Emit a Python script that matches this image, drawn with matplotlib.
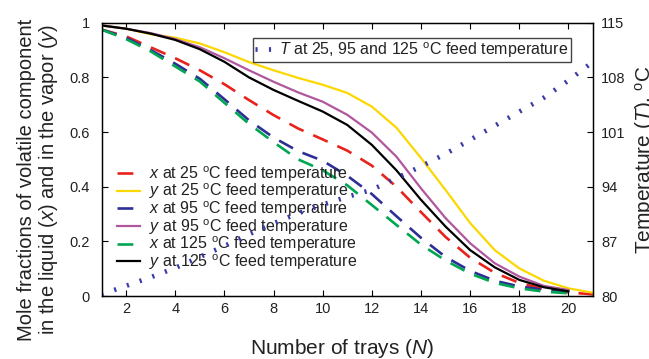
import matplotlib
matplotlib.use("Agg")
import matplotlib.pyplot as plt

plt.rcParams['font.family'] = ['Liberation Sans', 'DejaVu Sans']
plt.rcParams['mathtext.fontset'] = 'custom'
plt.rcParams['mathtext.rm'] = 'Liberation Sans'
plt.rcParams['mathtext.it'] = 'Liberation Sans:italic'
plt.rcParams['mathtext.bf'] = 'Liberation Sans:bold'

# ---- data ----
trays21 = list(range(1, 22))
trays20 = list(range(1, 21))

x_25 = [0.975, 0.95, 0.91, 0.87, 0.826, 0.775, 0.717, 0.662, 0.613, 0.573, 0.532,
        0.477, 0.40, 0.307, 0.216, 0.14, 0.085, 0.048, 0.025, 0.013, 0.006]
y_25 = [0.99, 0.978, 0.958, 0.945, 0.924, 0.892, 0.856, 0.826, 0.798, 0.773, 0.743,
        0.693, 0.616, 0.505, 0.388, 0.267, 0.168, 0.101, 0.056, 0.028, 0.012]
x_95 = [0.975, 0.945, 0.90, 0.85, 0.795, 0.72, 0.643, 0.58, 0.53, 0.495,
        0.44, 0.373, 0.292, 0.213, 0.143, 0.092, 0.056, 0.035, 0.023, 0.014]
y_95 = [0.99, 0.978, 0.962, 0.94, 0.91, 0.87, 0.826, 0.784, 0.745, 0.711,
        0.663, 0.598, 0.51, 0.394, 0.285, 0.193, 0.12, 0.071, 0.037, 0.022]
x_125 = [0.975, 0.94, 0.895, 0.84, 0.785, 0.707, 0.63, 0.563, 0.50, 0.46,
         0.405, 0.333, 0.26, 0.188, 0.13, 0.082, 0.048, 0.028, 0.016, 0.01]
y_125 = [0.99, 0.978, 0.96, 0.937, 0.903, 0.857, 0.80, 0.754, 0.714, 0.675,
         0.626, 0.553, 0.46, 0.352, 0.254, 0.168, 0.105, 0.059, 0.032, 0.017]
T_all = [80.2, 81.3, 82.4, 83.6, 85.0, 86.4, 87.9, 89.3, 90.6, 91.7, 92.7,
         93.6, 95.1, 96.6, 98.2, 100.0, 101.8, 103.6, 105.4, 107.6, 110.0]

xticks = [2, 4, 6, 8, 10, 12, 14, 16, 18, 20]
yticks = [0, 0.2, 0.4, 0.6, 0.8, 1]
yticklabels = ['0', '0.2', '0.4', '0.6', '0.8', '1']
tticks = [80, 87, 94, 101, 108, 115]

labels = [r'$\it{x}$ at 25 $^{\rm o}$C feed temperature',
          r'$\it{y}$ at 25 $^{\rm o}$C feed temperature',
          r'$\it{x}$ at 95 $^{\rm o}$C feed temperature',
          r'$\it{y}$ at 95 $^{\rm o}$C feed temperature',
          r'$\it{x}$ at 125 $^{\rm o}$C feed temperature',
          r'$\it{y}$ at 125 $^{\rm o}$C feed temperature']
T_label = r'$\it{T}$ at 25, 95 and 125 $^{\rm o}$C feed temperature'

# ---- figure ----
W, H = 649, 359
fig = plt.figure(figsize=(W / 100, H / 100), dpi=100)
L, R, B, Tp = 101.5, 593.0, 296.0, 22.7
ax = fig.add_axes([L / W, 1 - B / H, (R - L) / W, (B - Tp) / H])

dash = (0, (6, 4))
lw_d = 1.9
lw_s = 1.6
h1, = ax.plot(trays21, x_25, color='#e8231c', lw=lw_d, linestyle=dash)
h2, = ax.plot(trays21, y_25, color='#fcd700', lw=lw_s)
h3, = ax.plot(trays20, x_95, color='#2e2f96', lw=lw_d, linestyle=dash)
h4, = ax.plot(trays20, y_95, color='#b0579e', lw=lw_s)
h5, = ax.plot(trays20, x_125, color='#00a651', lw=lw_d, linestyle=dash)
h6, = ax.plot(trays20, y_125, color='#000000', lw=lw_s)

ax.set_xlim(1, 21)
ax.set_ylim(0, 1)
ax.set_xticks(xticks)
ax.set_yticks(yticks)
ax.set_yticklabels(yticklabels)
ax.tick_params(axis='x', direction='in', top=True, bottom=True, length=4,
               labelsize=10.5, pad=4.5, labelcolor='#222222')
ax.tick_params(axis='y', direction='in', left=True, right=False, length=4,
               labelsize=10.5, pad=8.5, labelcolor='#222222')
for s in ax.spines.values():
    s.set_linewidth(1.0)

ax.set_xlabel(r'Number of trays ($\it{N}$)', fontsize=15, color='#222222')
ax.xaxis.set_label_coords(0.49, -0.15)
ax.set_ylabel('Mole fractions of volatile component\n'
              r'in the liquid ($\it{x}$) and in the vapor ($\it{y}$)',
              fontsize=14.5, color='#222222', linespacing=1.05)
ax.yaxis.set_label_coords((60 - L) / (R - L), (B - 180) / (B - Tp))

leg1 = ax.legend([h1, h2, h3, h4, h5, h6], labels, loc='upper left',
                 bbox_to_anchor=(116.7 / W, 1 - 164 / H),
                 bbox_transform=fig.transFigure, frameon=False,
                 borderpad=0, borderaxespad=0, handlelength=1.45,
                 handletextpad=0.6, labelspacing=-0.12, fontsize=11.5)
for t in leg1.get_texts():
    t.set_color('#222222')

ax2 = ax.twinx()
hT, = ax2.plot(trays21, T_all, color='#3a3aa8', lw=3.4,
               linestyle=(0, (0.45, 2.4)), dash_capstyle='butt')
ax2.set_ylim(80, 115)
ax2.set_yticks(tticks)
ax2.tick_params(axis='y', direction='in', right=True, length=4,
                labelsize=10.5, pad=6, labelcolor='#222222')
ax2.set_ylabel(r'Temperature ($\it{T}$), $^{\rm o}$C', fontsize=15,
               color='#222222')
ax2.yaxis.set_label_coords((633 - L) / (R - L), 0.5)

leg2 = ax2.legend([hT], [T_label], loc='upper left',
                  bbox_to_anchor=(253 / W, 1 - 38 / H),
                  bbox_transform=fig.transFigure, frameon=True, fancybox=False,
                  borderpad=0.15, borderaxespad=0, handlelength=1.0,
                  handletextpad=0.5, fontsize=11.5, framealpha=1)
leg2.get_frame().set_edgecolor('#444444')
leg2.get_frame().set_linewidth(1.0)
for t in leg2.get_texts():
    t.set_color('#222222')

fig.savefig('out.png', dpi=100)
